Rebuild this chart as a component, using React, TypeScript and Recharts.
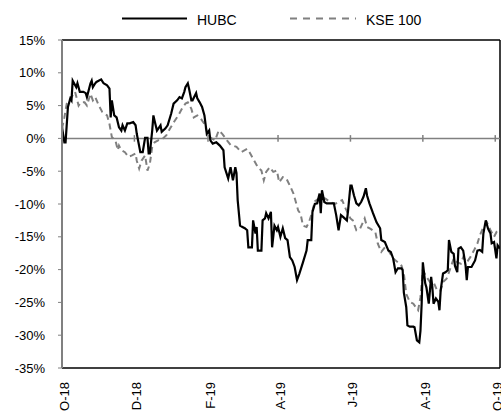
import { LineChart, Line, XAxis, YAxis, ReferenceLine } from "recharts";

// ─── DATA ────────────────────────────────────────────────────────────
// x = days since 1 Oct 2018, y = cumulative return in %

const hubcDays = [
  0, 2, 3, 5, 7, 8, 9, 12, 13, 15, 18, 20, 21, 24, 25, 26, 28, 29, 33, 35, 38,
  40, 41, 42, 44, 46, 48, 50, 51, 53, 55, 57, 60, 62, 63, 66, 68, 70, 72, 73,
  74, 76, 77, 78, 80, 83, 84, 87, 89, 92, 94, 97, 99, 101, 103, 104, 106, 107,
  109, 110, 113, 114, 116, 118, 120, 122, 124, 125, 127, 130, 133, 136, 137,
  140, 142, 144, 146, 147, 148, 150, 152, 154, 156, 157, 160, 161, 163, 164,
  165, 168, 169, 171, 172, 174, 176, 177, 179, 181, 182, 184, 186, 188, 190,
  192, 194, 196, 198, 200, 203, 206, 207, 210, 211, 213, 215, 217, 218, 219,
  221, 223, 226, 229, 231, 233, 235, 237, 240, 241, 243, 244, 246, 248, 250,
  252, 254, 256, 257, 259, 262, 265, 268, 269, 272, 275, 277, 279, 281, 283,
  286, 287, 288, 290, 291, 293, 296, 297, 299, 301, 302, 303, 304, 306, 307,
  309, 311, 312, 313, 315, 317, 318, 319, 321, 323, 325, 326, 328, 330, 331,
  333, 334, 336, 338, 340, 341, 342, 345, 348, 350, 352, 354, 355, 357, 359,
  361, 362, 364, 366, 367, 369,
];
const hubcReturns = [
  1.7, -0.6, -0.6, 4.8, 6.1, 5.8, 8.8, 7.8, 8.4, 7.1, 7.1, 6.9, 6.3, 8.4, 8.8,
  7.8, 8.4, 8.6, 9.0, 8.4, 8.1, 7.6, 3.2, 5.8, 3.5, 3.2, 1.7, 1.2, 2.0, 1.2,
  2.3, 2.3, 2.5, 2.0, 0.7, -2.1, -2.1, 0.1, 0.1, -2.3, -2.3, 1.2, 3.5, 2.7,
  1.2, 2.0, 1.0, 1.5, 2.0, 3.8, 5.3, 5.8, 6.3, 6.1, 7.1, 7.8, 8.4, 7.6, 5.8,
  5.8, 6.9, 6.1, 5.5, 4.8, 3.5, 0.7, 1.2, -0.3, -0.8, -0.6, -1.1, -1.8, -4.4,
  -6.1, -4.4, -6.4, -4.4, -5.3, -9.4, -13.3, -13.5, -13.7, -14.0, -16.6,
  -16.6, -12.5, -14.5, -13.5, -17.1, -17.1, -12.5, -12.2, -11.4, -12.2, -11.2,
  -16.6, -13.3, -14.0, -13.5, -15.0, -13.7, -15.2, -15.5, -18.1, -18.6, -19.6,
  -21.6, -20.6, -18.9, -17.1, -15.5, -15.5, -11.2, -10.0, -9.9, -8.4, -11.4,
  -7.9, -9.7, -9.9, -9.9, -9.9, -11.7, -14.0, -11.7, -12.0, -12.5, -11.0,
  -7.2, -7.2, -8.7, -9.9, -10.2, -9.7, -8.9, -7.6, -8.7, -9.9, -11.4, -12.8,
  -13.7, -15.5, -15.8, -17.1, -17.3, -18.3, -20.4, -19.8, -19.8, -20.1, -23.5,
  -25.7, -28.5, -28.7, -28.7, -28.8, -30.8, -31.1, -29.3, -25.2, -18.9, -22.1,
  -22.7, -25.2, -21.1, -22.7, -25.2, -24.4, -24.9, -26.2, -23.2, -20.6, -20.4,
  -20.1, -15.5, -17.3, -17.6, -19.4, -20.4, -16.8, -16.6, -17.1, -19.4, -21.6,
  -19.6, -19.6, -18.6, -17.1, -17.0, -17.3, -14.5, -12.5, -13.8, -14.5, -16.0,
  -15.8, -18.3, -16.3, -16.8,
];

const kseDays = [
  0, 2, 4, 8, 11, 14, 16, 19, 21, 24, 26, 28, 31, 34, 38, 40, 42, 45, 47, 48,
  50, 53, 56, 59, 62, 63, 65, 67, 70, 72, 74, 76, 78, 81, 85, 88, 91, 95, 98,
  101, 104, 106, 109, 111, 114, 117, 120, 123, 126, 129, 132, 135, 139, 142,
  144, 147, 151, 156, 158, 161, 165, 168, 170, 172, 175, 178, 181, 183, 186,
  189, 192, 195, 197, 199, 201, 203, 206, 208, 210, 213, 216, 218, 222, 226,
  230, 233, 236, 239, 241, 243, 245, 248, 251, 255, 257, 260, 264, 266, 269,
  272, 275, 279, 283, 286, 288, 290, 293, 296, 299, 300, 302, 304, 307, 310,
  313, 316, 319, 321, 324, 327, 330, 333, 336, 338, 341, 344, 347, 350, 352,
  355, 358, 361, 364, 366, 369,
];
const kseReturns = [
  1.5, 3.2, 5.3, 6.3, 7.1, 5.0, 5.5, 5.5, 5.0, 6.8, 5.8, 6.3, 5.0, 4.0, 3.5,
  2.2, 0.2, -0.3, -1.8, -1.1, -1.8, -2.1, -2.8, -2.6, -2.3, -3.4, -4.6, -3.4,
  -2.6, -4.9, -3.9, -1.3, -0.6, -0.3, 0.0, 0.5, 1.5, 2.7, 3.5, 4.5, 5.3, 5.5,
  4.5, 3.2, 3.5, 3.0, 2.2, 0.5, 0.0, -0.3, 1.2, 0.7, -0.3, -1.0, -1.1, -1.3,
  -2.1, -1.6, -2.1, -3.1, -4.4, -4.9, -6.4, -5.1, -4.4, -5.1, -4.9, -6.7,
  -5.9, -6.1, -7.2, -8.4, -9.7, -11.0, -11.5, -13.3, -13.5, -12.8, -11.7,
  -9.6, -9.2, -8.9, -9.2, -9.7, -10.0, -9.7, -9.4, -10.7, -11.5, -12.2,
  -12.5, -14.0, -13.8, -12.2, -13.5, -13.8, -14.3, -16.0, -17.3, -16.6,
  -17.1, -18.3, -18.9, -19.4, -20.6, -23.7, -24.9, -25.2, -26.0, -26.2,
  -24.2, -20.1, -21.1, -21.9, -21.9, -23.2, -23.2, -21.9, -21.4, -19.9,
  -18.3, -18.9, -19.1, -18.1, -18.9, -18.1, -17.1, -16.0, -14.8, -13.5,
  -12.8, -14.0, -15.0, -14.3, -14.8,
];

const monthTicks = [0, 61, 123, 182, 243, 304, 365];
const monthLabels = ["O-18", "D-18", "F-19", "A-19", "J-19", "A-19", "O-19"];
const pctTicks = [-35, -30, -25, -20, -15, -10, -5, 0, 5, 10, 15];

const hubcData = hubcDays.map((d, i) => ({ day: d, value: hubcReturns[i] }));
const kseData = kseDays.map((d, i) => ({ day: d, value: kseReturns[i] }));

const FONT = "'Liberation Sans', Arial, sans-serif";
const GREY = "#808080";

// ─── TICKS ───────────────────────────────────────────────────────────

// rotated month label, hangs below the bottom axis (last one runs off the edge like the original)
function MonthTick(props: any) {
  const { x, y, payload } = props;
  const label = monthLabels[monthTicks.indexOf(payload.value)];
  const tx = x + 2.5;
  const ty = y + 14;
  return (
    <text
      x={tx}
      y={ty}
      transform={`rotate(-90, ${tx}, ${ty})`}
      textAnchor="end"
      dominantBaseline="central"
      fontSize={13}
      fontFamily={FONT}
      fill="#000"
    >
      {label}
    </text>
  );
}

// ─── COMPONENT ───────────────────────────────────────────────────────

export default function App() {
  return (
    <div style={{ position: "absolute", left: 0, top: 0, width: 501, height: 413 }}>
      {/* Legend */}
      <svg
        width={501}
        height={36}
        style={{ position: "absolute", left: 0, top: 0 }}
      >
        <line x1={122} x2={187} y1={18.5} y2={18.5} stroke="#000" strokeWidth={2} />
        <text x={197} y={20} dominantBaseline="central" fontSize={14} fontFamily={FONT}>
          HUBC
        </text>
        <line
          x1={290}
          x2={356}
          y1={18.5}
          y2={18.5}
          stroke={GREY}
          strokeWidth={2}
          strokeDasharray="7 6"
        />
        <text x={366} y={20} dominantBaseline="central" fontSize={14} fontFamily={FONT}>
          KSE 100
        </text>
      </svg>

      <LineChart
        width={501}
        height={413}
        margin={{ top: 40, right: 1, bottom: 0, left: 0 }}
      >
        <XAxis
          dataKey="day"
          type="number"
          domain={[0, 369]}
          ticks={monthTicks}
          tick={<MonthTick />}
          tickLine={false}
          tickSize={0}
          tickMargin={0}
          interval={0}
          axisLine={{ stroke: "#000", strokeWidth: 1.5 }}
          height={45}
          allowDataOverflow
        />
        <YAxis
          type="number"
          domain={[-35, 15]}
          ticks={pctTicks}
          interval={0}
          tickFormatter={(v: number) => `${v}%`}
          width={62}
          axisLine={{ stroke: GREY, strokeWidth: 2 }}
          tickLine={{ stroke: GREY }}
          tickSize={4}
          tickMargin={13}
          tick={{ fontSize: 13, fill: "#000", fontFamily: FONT }}
          allowDataOverflow
        />

        {/* frame: top and right borders */}
        <ReferenceLine y={15} stroke="#000" strokeWidth={1.5} />
        <ReferenceLine x={369} stroke="#000" strokeWidth={1.5} />

        {/* zero line with month tick marks */}
        <ReferenceLine y={0} stroke={GREY} strokeWidth={1.5} />
        {monthTicks.slice(1).map((d) => (
          <ReferenceLine
            key={d}
            segment={[
              { x: d, y: -0.5 },
              { x: d, y: 0.5 },
            ]}
            stroke={GREY}
            strokeWidth={1.5}
          />
        ))}

        <Line
          data={kseData}
          dataKey="value"
          type="linear"
          stroke={GREY}
          strokeWidth={2}
          strokeDasharray="6 4"
          dot={false}
          isAnimationActive={false}
        />
        <Line
          data={hubcData}
          dataKey="value"
          type="linear"
          stroke="#000"
          strokeWidth={2.2}
          dot={false}
          isAnimationActive={false}
        />
      </LineChart>
    </div>
  );
}
